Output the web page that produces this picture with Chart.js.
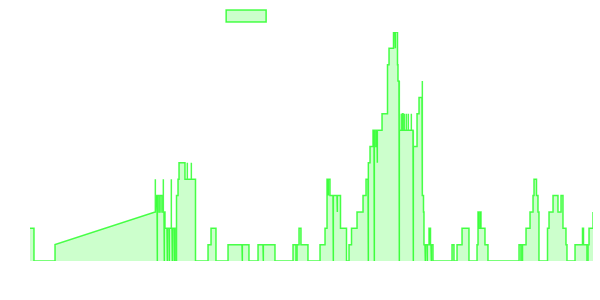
<!DOCTYPE html>
<html>
<head>
<meta charset="utf-8">
<script src="https://cdn.jsdelivr.net/npm/chart.js@4"></script>
<style>
  html, body { margin: 0; padding: 0; background: #fff; }
  #wrap { width: 600px; height: 300px; }
</style>
</head>
<body>
<div id="wrap"><canvas id="myChart"></canvas></div>
<script>
// vertices of the trace: time (minutes from start) and count at that time
const times = [
  0, 4, 4, 25, 25, 125, 125, 125.5, 125.5, 126, 127, 127, 127.5, 127.5, 129, 129, 130, 130, 132, 132,
  133, 133, 133.5, 133.5, 134, 134, 134.5, 134.5, 135, 135, 137, 137, 137.5, 137.5, 139, 139, 139.5, 139.5, 141, 141,
  141.5, 141.5, 142, 142, 142.5, 142.5, 144, 144, 144.5, 144.5, 145, 145, 146.5, 146.5, 148, 148, 149, 149, 155, 155,
  157, 157, 157.5, 157.5, 161, 161, 161.5, 161.5, 165.5, 165.5, 178, 178, 181, 181, 186, 186, 198, 198, 212, 212,
  212.5, 212.5, 219, 219, 228, 228, 233, 233, 233.5, 233.5, 245, 245, 263, 263, 266, 266, 267, 267, 269, 269,
  271, 271, 278, 278,
  290, 290, 295, 295, 297, 297, 298, 298, 298.5, 298.5, 300, 300, 303, 303, 303.5, 303.5, 307, 307, 307.5, 307.5,
  310.5, 310.5, 316.5, 316.5, 319, 319, 321.5, 321.5, 327, 327, 333, 333, 336, 336, 338, 338, 338.5, 338.5, 340, 340,
  343, 343, 344, 344, 344.5, 344.5, 345, 345, 346, 346, 347, 347, 347.5, 347.5, 352, 352, 357.5, 357.5, 359, 359,
  363.5, 363.5, 365, 365, 365.5, 365.5, 367.5, 367.5, 368, 368, 369, 369, 369.5, 369.5, 371, 371, 371.5, 371.5, 372.5, 372.5,
  373, 373, 374, 374, 374.5, 374.5, 376, 376, 376.5, 376.5, 378, 378, 378.5, 378.5, 381, 381, 381.5, 381.5, 383, 383,
  383.5, 383.5, 387, 387, 389, 389, 392, 392, 392.5, 392.5, 393.5, 393.5, 394, 394, 395, 395, 395.5, 395.5, 397, 397,
  397.5, 397.5, 399, 399, 400.5, 400.5, 401, 401, 401.5, 401.5, 403, 403, 422, 422, 424, 424, 427, 427, 432, 432,
  439, 439, 447, 447, 448, 448, 449, 449, 450, 450, 451, 451, 455, 455, 458, 458, 489, 489, 491, 491,
  492.5, 492.5, 496, 496, 500, 500, 503, 503, 504, 504, 506.5, 506.5, 508, 508, 509, 509, 517.5, 517.5, 519, 519,
  523, 523, 528, 528, 531, 531, 533, 533, 536, 536, 537, 537, 545, 545, 552.5, 552.5, 553.5, 553.5, 557, 557,
  558, 558, 559, 559, 563, 563
];
const counts = [
  2, 2, 0, 0, 1, 3, 5, 5, 3, 4, 4, 0, 0, 4, 4, 3, 3, 4, 4, 3,
  3, 5, 5, 3, 3, 0, 0, 3, 3, 2, 2, 0, 0, 2, 2, 0, 0, 2, 2, 5,
  5, 2, 2, 0, 0, 2, 2, 0, 0, 2, 2, 0, 0, 4, 4, 5, 5, 6, 6, 5,
  5, 6, 6, 5, 5, 6, 6, 5, 5, 0, 0, 1, 1, 2, 2, 0, 0, 1, 1, 0,
  0, 1, 1, 0, 0, 1, 1, 0, 0, 1, 1, 0, 0, 1, 1, 0, 0, 1, 1, 2,
  2, 1, 1, 0,
  0, 1, 1, 2, 2, 5, 5, 4, 4, 5, 5, 4, 4, 0, 0, 4, 4, 3, 3, 4,
  4, 2, 2, 0, 0, 1, 1, 2, 2, 3, 3, 4, 4, 5, 5, 0, 0, 6, 6, 7,
  7, 8, 8, 0, 0, 8, 8, 7, 7, 8, 8, 6, 6, 8, 8, 9, 9, 12, 12, 13,
  13, 14, 14, 13, 13, 14, 14, 12, 12, 11, 11, 0, 0, 8, 8, 9, 9, 8, 8, 9,
  9, 8, 8, 9, 9, 8, 8, 9, 9, 8, 8, 9, 9, 8, 8, 9, 9, 8, 8, 0,
  0, 7, 7, 9, 9, 10, 10, 11, 11, 4, 4, 3, 3, 1, 1, 0, 0, 1, 1, 0,
  0, 1, 1, 2, 2, 1, 1, 0, 0, 1, 1, 0, 0, 1, 1, 0, 0, 1, 1, 2,
  2, 0, 0, 1, 1, 3, 3, 2, 2, 3, 3, 2, 2, 1, 1, 0, 0, 1, 1, 0,
  0, 1, 1, 2, 2, 3, 3, 4, 4, 5, 5, 4, 4, 3, 3, 0, 0, 2, 2, 3,
  3, 4, 4, 3, 3, 4, 4, 2, 2, 1, 1, 0, 0, 1, 1, 2, 2, 1, 1, 0,
  0, 1, 1, 2, 2, 3
];
const seriesLabel = 'Concurrent users count';
const yMin = 0;
const yMax = 14;

const points = times.map((t, i) => ({ x: t, y: counts[i] }));

const ctx = document.getElementById('myChart');

new Chart(ctx, {
    type: 'line',
    data: {
        datasets: [{
            label: seriesLabel,
            data: points,
            borderColor: 'rgba(0, 255, 0, 0.7)',
            backgroundColor: 'rgba(0, 255, 0, 0.2)',
            borderWidth: 1.5,
            pointRadius: 0,
            tension: 0,
            fill: 'origin'
        }]
    },
    options: {
        responsive: true,
        maintainAspectRatio: false,
        animation: false,
        layout: {
            padding: { left: 30, right: 7, bottom: 39, top: 0 }
        },
        plugins: {
            legend: {
                labels: {
                    // label text is not visible in the picture
                    color: 'rgba(0, 0, 0, 0)'
                }
            },
            tooltip: { enabled: false }
        },
        scales: {
            x: {
                type: 'linear',
                display: false,
                min: times[0],
                max: times[times.length - 1]
            },
            y: {
                display: false,
                min: yMin,
                max: yMax
            }
        }
    }
});
</script>
</body>
</html>
